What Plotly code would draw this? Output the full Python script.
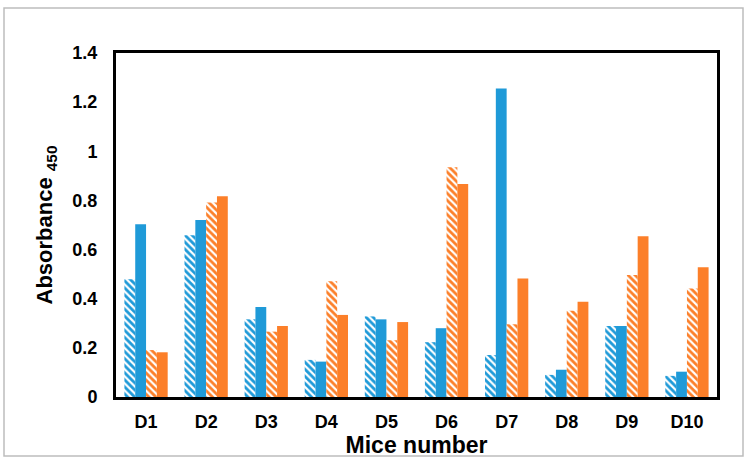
import plotly.graph_objects as go

categories = ["D1", "D2", "D3", "D4", "D5", "D6", "D7", "D8", "D9", "D10"]
blue_hatched = [0.479, 0.658, 0.316, 0.151, 0.328, 0.223, 0.171, 0.090, 0.289, 0.086]
blue_solid = [0.703, 0.720, 0.366, 0.144, 0.316, 0.280, 1.256, 0.111, 0.289, 0.103]
orange_hatched = [0.191, 0.792, 0.266, 0.471, 0.231, 0.935, 0.296, 0.351, 0.497, 0.442]
orange_solid = [0.182, 0.817, 0.289, 0.334, 0.305, 0.867, 0.482, 0.388, 0.654, 0.528]
y_ticks = [0, 0.2, 0.4, 0.6, 0.8, 1.0, 1.2, 1.4]
y_tick_labels = ["0", "0.2", "0.4", "0.6", "0.8", "1", "1.2", "1.4"]

BLUE = "#1F9AD8"
ORANGE = "#FC7F29"

fig = go.Figure()

def hatched(name, vals, color):
    return go.Bar(
        name=name, x=categories, y=vals,
        marker=dict(color="white", line=dict(width=0),
                    pattern=dict(shape="\\", fgcolor=color, bgcolor="white",
                                 fgopacity=1, size=5, solidity=0.55, fillmode="replace")),
    )

def solid(name, vals, color):
    return go.Bar(name=name, x=categories, y=vals,
                  marker=dict(color=color, line=dict(width=0)))

fig.add_trace(hatched("Blue hatched", blue_hatched, BLUE))
fig.add_trace(solid("Blue solid", blue_solid, BLUE))
fig.add_trace(hatched("Orange hatched", orange_hatched, ORANGE))
fig.add_trace(solid("Orange solid", orange_solid, ORANGE))

L, R, T, B = 116, 31, 53, 67
W, H = 748, 464
pw, ph = W - L - R, H - T - B

fig.update_layout(
    width=W, height=H,
    margin=dict(l=L, r=R, t=T, b=B, autoexpand=False),
    paper_bgcolor="white", plot_bgcolor="white",
    barmode="group", bargap=0.28, bargroupgap=0,
    showlegend=False,
    font=dict(family="Liberation Sans, Arial, sans-serif", color="black"),
    xaxis=dict(
        automargin=False,
        showline=True, linecolor="black", linewidth=3, mirror=True,
        showgrid=False, ticks="", ticklabelstandoff=6,
        tickfont=dict(size=18, weight="bold"),
        title=dict(text="<b>Mice number</b>", font=dict(size=23), standoff=0),
    ),
    yaxis=dict(
        automargin=False,
        range=[0, 1.4], tickvals=y_ticks, ticktext=y_tick_labels,
        showline=True, linecolor="black", linewidth=3, mirror=True,
        showgrid=False, zeroline=False, ticks="",
        ticklabelstandoff=12,
        tickfont=dict(size=18, weight="bold"),
        title=dict(text="<b>Absorbance <sub>450</sub></b>", font=dict(size=22), standoff=14),
    ),
)

# outer light-grey frame around the whole chart
fig.add_shape(type="rect", xref="paper", yref="paper",
              x0=(4 - L) / pw, x1=(743 - L) / pw,
              y0=-(456 - (H - B)) / ph, y1=1 + (T - 8) / ph,
              line=dict(color="#BDBDBD", width=1.5), layer="below")

fig.write_html("out.html", config={"displayModeBar": False},
               post_script="document.body.style.margin='0px';")
